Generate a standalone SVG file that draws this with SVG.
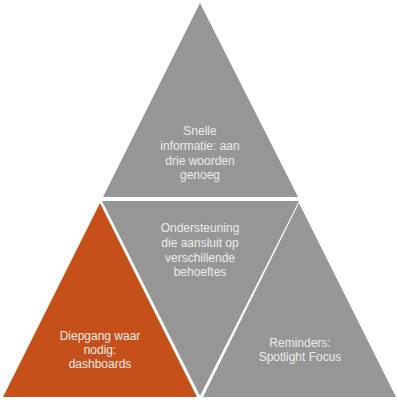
<svg xmlns="http://www.w3.org/2000/svg" width="397" height="400" viewBox="0 0 397 400">
<style>
.g{fill:#969696}
.o{fill:#C55019}
.t{font-family:"Liberation Sans",Arial,sans-serif;font-size:12px;fill:#ECECEC;text-anchor:middle}
</style>
<rect width="397" height="400" fill="#ffffff"/>
<g id="top">
<polygon class="g" points="200,3 103,197 298,197"/>
<text class="t" x="200" y="135">Snelle</text>
<text class="t" x="200" y="150">informatie: aan</text>
<text class="t" x="200" y="165">drie woorden</text>
<text class="t" x="200" y="179">genoeg</text>
</g>
<g id="middle">
<polygon class="g" points="102,201 299,201 200,396"/>
<text class="t" x="200" y="232">Ondersteuning</text>
<text class="t" x="200" y="247">die aansluit op</text>
<text class="t" x="200" y="262">verschillende</text>
<text class="t" x="200" y="276">behoeftes</text>
</g>
<g id="left">
<polygon class="o" points="100,203 3,397 197,397"/>
<text class="t" x="100" y="340">Diepgang waar</text>
<text class="t" x="100" y="354">nodig:</text>
<text class="t" x="100" y="368">dashboards</text>
</g>
<g id="right">
<polygon class="g" points="299,203 203,397 396,397"/>
<text class="t" x="300" y="347">Reminders:</text>
<text class="t" x="300" y="361">Spotlight Focus</text>
</g>
<g id="connectors"></g>
</svg>
